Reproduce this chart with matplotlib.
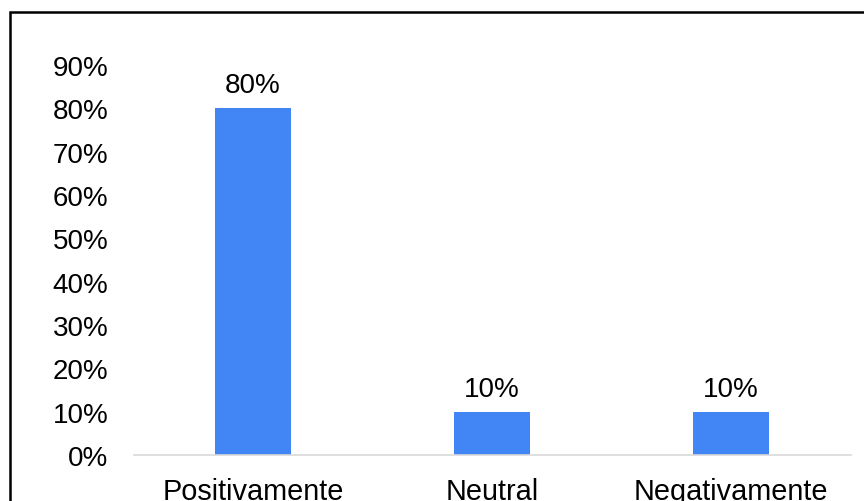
import matplotlib
matplotlib.use('Agg')
from matplotlib import pyplot as plt
from matplotlib.patches import Rectangle
from matplotlib.ticker import FuncFormatter

categories = ['Positivamente', 'Neutral', 'Negativamente']
values = [80, 10, 10]
yticks = [0, 10, 20, 30, 40, 50, 60, 70, 80, 90]

plt.rcParams['font.family'] = ['Liberation Sans', 'DejaVu Sans']

W, H = 864, 502
fig = plt.figure(figsize=(W / 100, H / 100), dpi=100)
ax = fig.add_axes([133.5 / W, 1 - 456 / H, 717 / W, 390 / H])

x = list(range(len(categories)))
ax.bar(x, values, width=0.314, color='#4285f4', zorder=2)
for xi, v in zip(x, values):
    ax.text(xi, v + 5.3, f'{v}%', ha='center', va='center', fontsize=20)

ax.set_xlim(-0.5, len(categories) - 0.5)
ax.set_ylim(0, 90)
ax.set_yticks(yticks)
ax.yaxis.set_major_formatter(FuncFormatter(lambda v, p: f'{v:.0f}%'))
ax.set_xticks(x)
ax.set_xticklabels(categories, fontsize=20.8)
ax.tick_params(axis='y', length=0, labelsize=20, pad=18)
ax.tick_params(axis='x', length=0, pad=15.5)
for s in ['top', 'right', 'left']:
    ax.spines[s].set_visible(False)
ax.spines['bottom'].set_color('#d9d9d9')
ax.spines['bottom'].set_linewidth(1.2)

# outer frame, runs off the right and bottom edges
fig.patches.append(Rectangle((10 / W, -0.1), 1.2, 1 - 12.5 / H + 0.1,
                             transform=fig.transFigure, fill=False,
                             edgecolor='black', linewidth=1.8))

fig.savefig('out.png', dpi=100)
